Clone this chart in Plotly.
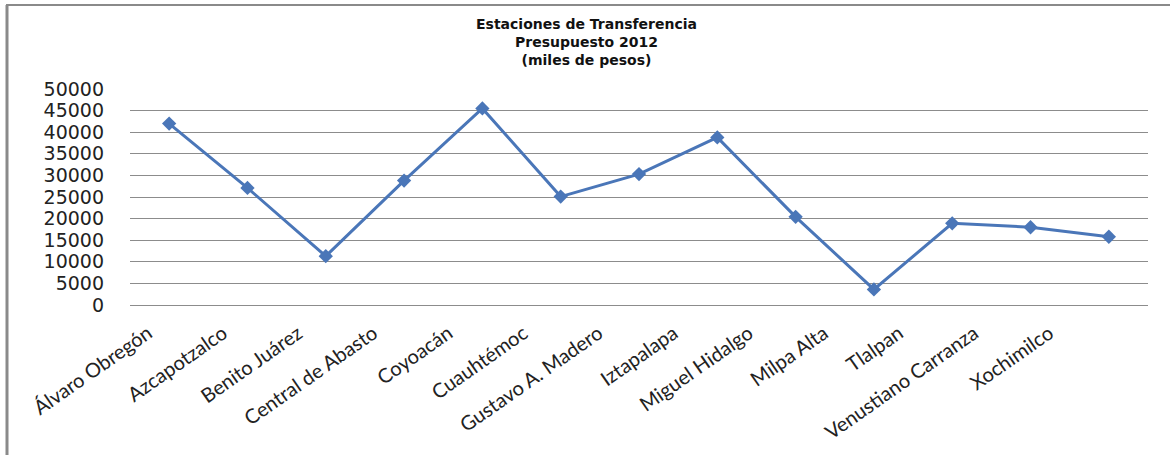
import plotly.graph_objects as go

# Presupuesto 2012 por delegación (miles de pesos)
delegaciones = [
    "Álvaro Obregón", "Azcapotzalco", "Benito Juárez", "Central de Abasto",
    "Coyoacán", "Cuauhtémoc", "Gustavo A. Madero", "Iztapalapa",
    "Miguel Hidalgo", "Milpa Alta", "Tlalpan", "Venustiano Carranza",
    "Xochimilco",
]
presupuesto = [42000, 27100, 11300, 28800, 45500, 25100, 30300, 38800,
               20400, 3600, 18900, 18000, 15800]
y_ticks = [0, 5000, 10000, 15000, 20000, 25000, 30000, 35000, 40000, 45000, 50000]
title_lines = ["Estaciones de Transferencia", "Presupuesto 2012", "(miles de pesos)"]

W, H = 1170, 455
L, R, T, B = 130, 22, 89, 150
plot_w = W - L - R
plot_h = H - T - B
n = len(delegaciones)


def px_x(px):
    return (px - L) / plot_w


def px_y(py):
    return (H - B - py) / plot_h


fig = go.Figure()

# invisible companion trace carrying the category labels on a tighter axis
fig.add_trace(go.Scatter(
    x=delegaciones, y=presupuesto, xaxis="x2", yaxis="y2",
    mode="markers", marker=dict(opacity=0), hoverinfo="skip",
    showlegend=False,
))

fig.add_trace(go.Scatter(
    x=delegaciones,
    y=presupuesto,
    mode="lines+markers",
    line=dict(color="#4a76b8", width=3),
    marker=dict(symbol="diamond", size=11, color="#4a76b8"),
    showlegend=False,
    cliponaxis=False,
))

# outer frame of the chart area
frame = "#8a8a8a"
fig.add_shape(type="line", xref="paper", yref="paper",
              x0=px_x(7), x1=px_x(7), y0=px_y(5), y1=px_y(H),
              line=dict(color=frame, width=3))
fig.add_shape(type="line", xref="paper", yref="paper",
              x0=px_x(6), x1=px_x(W), y0=px_y(5), y1=px_y(5),
              line=dict(color=frame, width=2))

# three-line title
fig.add_annotation(
    text="<br>".join(f"<b>{t}</b>" for t in title_lines),
    xref="paper", yref="paper", x=px_x(586), y=px_y(42),
    showarrow=False, xanchor="center", yanchor="middle",
    font=dict(family="DejaVu Sans", size=14, color="#111111"),
)

# label axis: pitch of 75 px, first label ending near x=148
label_pitch = 75.1
label_first = 148
lab_start = -(label_first - L) / label_pitch
lab_end = n - 0.5
lab_dom = (lab_end - lab_start) * label_pitch / plot_w

fig.update_layout(
    xaxis=dict(
        type="category", range=[-0.5, n - 0.5],
        showticklabels=False, showgrid=False, showline=False,
        zeroline=False, ticks="",
    ),
    xaxis2=dict(
        type="category", range=[lab_start, lab_end],
        domain=[0, lab_dom], anchor="y2",
        tickangle=-35,
        tickfont=dict(family="Lato", size=20, color="#222222"),
        showgrid=False, showline=False, zeroline=False, ticks="",
        ticklabelstandoff=12,
    ),
    yaxis=dict(
        range=[0, 50000],
        tickvals=y_ticks,
        ticktext=[str(v) for v in y_ticks],
        tickfont=dict(family="DejaVu Sans", size=19, color="#222222"),
        showgrid=True, gridcolor="#8c8c8c", gridwidth=1,
        zeroline=True, zerolinecolor="#8c8c8c", zerolinewidth=1,
        showline=False, ticks="", ticklabelstandoff=25,
    ),
    yaxis2=dict(
        range=[0, 50000], anchor="x2",
        showticklabels=False, showgrid=False, zeroline=False,
        showline=False, ticks="",
    ),
    width=W, height=H, autosize=False,
    margin=dict(l=L, r=R, t=T, b=B),
    paper_bgcolor="white", plot_bgcolor="rgba(0,0,0,0)",
)

fig.write_html("out.html")
